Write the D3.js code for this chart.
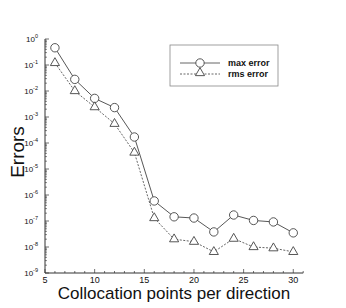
<!DOCTYPE html>
<html>
<head>
<meta charset="utf-8">
<script src="https://cdnjs.cloudflare.com/ajax/libs/d3/7.8.5/d3.min.js"></script>
<style>
  body { margin: 0; background: #fff; }
  svg { display: block; font-family: "Liberation Sans", Arial, sans-serif; }
</style>
</head>
<body>
<div id="vis"></div>
<script>
// collocation points per direction
const points = [6, 8, 10, 12, 14, 16, 18, 20, 22, 24, 26, 28, 30];
const maxError = [4.6e-1, 2.8e-2, 5.2e-3, 2.3e-3, 1.7e-4, 5.9e-7, 1.45e-7, 1.3e-7, 3.8e-8, 1.7e-7, 1.05e-7, 9.2e-8, 3.5e-8];
const rmsError = [1.2e-1, 1.0e-2, 2.4e-3, 5.5e-4, 4.3e-5, 1.3e-7, 2.0e-8, 1.6e-8, 6.5e-9, 2.1e-8, 1.0e-8, 9.0e-9, 6.5e-9];
const xTicks = [5, 10, 15, 20, 25, 30];
const yExps = [0, -1, -2, -3, -4, -5, -6, -7, -8, -9];

const width = 346, height = 308;
const svg = d3.select('#vis').append('svg')
    .attr('width', width)
    .attr('height', height);

const x = d3.scaleLinear().domain([5, 31]).range([45, 303.2]);
const y = d3.scaleLog().domain([1e-9, 1]).range([273, 39]);
const ink = '#333';

// axes lines
svg.append('line').attr('x1', x(5)).attr('x2', x(31)).attr('y1', y(1e-9)).attr('y2', y(1e-9))
    .attr('stroke', ink).attr('stroke-width', 1);
svg.append('line').attr('x1', x(5)).attr('x2', x(5)).attr('y1', y(1e-9)).attr('y2', y(1))
    .attr('stroke', ink).attr('stroke-width', 1);

// x ticks (pointing inward)
for (let i = 5; i <= 31; i++) {
  const major = i % 5 === 0;
  svg.append('line')
      .attr('x1', x(i)).attr('x2', x(i))
      .attr('y1', y(1e-9)).attr('y2', y(1e-9) - (major ? 4 : 2))
      .attr('stroke', ink).attr('stroke-width', 0.7);
}
svg.selectAll('.xlab').data(xTicks).enter().append('text')
    .attr('x', d => x(d)).attr('y', y(1e-9) + 10)
    .attr('text-anchor', 'middle')
    .attr('font-size', 9)
    .attr('fill', '#111')
    .text(d => d);

// y ticks, major + minor
yExps.forEach(e => {
  svg.append('line')
      .attr('x1', x(5)).attr('x2', x(5) + 4)
      .attr('y1', y(Math.pow(10, e))).attr('y2', y(Math.pow(10, e)))
      .attr('stroke', ink).attr('stroke-width', 0.7);
  if (e < 0) {
    for (let m = 2; m <= 9; m++) {
      const v = m * Math.pow(10, e);
      svg.append('line')
          .attr('x1', x(5)).attr('x2', x(5) + 2)
          .attr('y1', y(v)).attr('y2', y(v))
          .attr('stroke', ink).attr('stroke-width', 0.6);
    }
  }
  const t = svg.append('text')
      .attr('x', x(5) - 7).attr('y', y(Math.pow(10, e)) + 3)
      .attr('text-anchor', 'end')
      .attr('font-size', 8)
      .attr('fill', '#111');
  t.append('tspan').text('10');
  t.append('tspan').attr('dy', -4).attr('font-size', 5.5).text(e);
});

// series lines
const line = vals => d3.line().x((d, i) => x(points[i])).y(d => y(d))(vals);
svg.append('path').attr('d', line(maxError))
    .attr('fill', 'none').attr('stroke', '#444').attr('stroke-width', 0.9);
svg.append('path').attr('d', line(rmsError))
    .attr('fill', 'none').attr('stroke', '#555').attr('stroke-width', 0.9)
    .attr('stroke-dasharray', '2,1.5');

// markers
svg.selectAll('.circ').data(maxError).enter().append('circle')
    .attr('cx', (d, i) => x(points[i])).attr('cy', d => y(d))
    .attr('r', 4.2)
    .attr('fill', '#fff').attr('stroke', '#444').attr('stroke-width', 0.9);

const tri = d3.symbol().type(d3.symbolTriangle).size(36);
svg.selectAll('.tri').data(rmsError).enter().append('path')
    .attr('d', tri)
    .attr('transform', (d, i) => `translate(${x(points[i])},${y(d)})`)
    .attr('fill', '#fff').attr('stroke', '#444').attr('stroke-width', 0.9);

// legend
const lg = svg.append('g');
lg.append('rect').attr('x', 170).attr('y', 45).attr('width', 108).attr('height', 41)
    .attr('fill', '#fff').attr('stroke', '#888').attr('stroke-width', 0.8);
const legendItems = [
  {label: 'max error', dash: null, mark: 'circle', yy: 63},
  {label: 'rms error', dash: '2,1.5', mark: 'tri', yy: 74}
];
legendItems.forEach(it => {
  lg.append('line').attr('x1', 180).attr('x2', 220).attr('y1', it.yy).attr('y2', it.yy)
      .attr('stroke', '#555').attr('stroke-width', 0.9)
      .attr('stroke-dasharray', it.dash);
  if (it.mark === 'circle') {
    lg.append('circle').attr('cx', 200).attr('cy', it.yy).attr('r', 4.2)
        .attr('fill', '#fff').attr('stroke', '#444').attr('stroke-width', 0.9);
  } else {
    lg.append('path').attr('d', tri).attr('transform', `translate(200,${it.yy - 1})`)
        .attr('fill', '#fff').attr('stroke', '#444').attr('stroke-width', 0.9);
  }
  lg.append('text').attr('x', 228).attr('y', it.yy + 3)
      .attr('font-size', 9).attr('font-weight', 'bold').attr('fill', '#111')
      .text(it.label);
});

// axis titles
svg.append('text')
    .attr('x', 174).attr('y', 299)
    .attr('text-anchor', 'middle')
    .attr('font-size', 17)
    .attr('fill', '#111')
    .text('Collocation points per direction');
svg.append('text')
    .attr('transform', 'translate(24,152) rotate(-90)')
    .attr('text-anchor', 'middle')
    .attr('font-size', 19)
    .attr('fill', '#111')
    .text('Errors');
</script>
</body>
</html>
